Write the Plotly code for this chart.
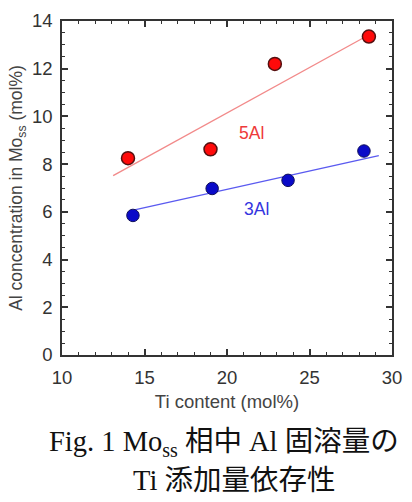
import plotly.graph_objects as go

# Data
ti_5al = [14.0, 19.0, 22.9, 28.6]
al_5al = [8.25, 8.62, 12.2, 13.35]
ti_3al = [14.3, 19.1, 23.7, 28.3]
al_3al = [5.85, 6.98, 7.32, 8.55]

fit5_x = [13.1, 28.5]
fit5_y = [7.52, 13.38]
fit3_x = [14.4, 29.2]
fit3_y = [6.08, 8.36]

label_names = ["5Al", "3Al"]
label_x = [21.5, 21.8]
label_y = [9.3, 6.1]

fig = go.Figure()
fig.add_trace(go.Scatter(x=fit5_x, y=fit5_y, mode="lines",
                         line=dict(color="#f28a8a", width=1.3), showlegend=False))
fig.add_trace(go.Scatter(x=fit3_x, y=fit3_y, mode="lines",
                         line=dict(color="#5a5af0", width=1.3), showlegend=False))
fig.add_trace(go.Scatter(x=ti_5al, y=al_5al, mode="markers",
                         marker=dict(size=13, color="#ff0a0a",
                                     line=dict(color="#551010", width=1.5)),
                         showlegend=False))
fig.add_trace(go.Scatter(x=ti_3al, y=al_3al, mode="markers",
                         marker=dict(size=12.5, color="#0a0ac8",
                                     line=dict(color="#10105a", width=1)),
                         showlegend=False))

label_colors = ["#ee3a3a", "#3535e0"]
for name, x, y, c in zip(label_names, label_x, label_y, label_colors):
    fig.add_annotation(x=x, y=y, text=name, showarrow=False,
                       font=dict(family="Liberation Sans", size=17.5, color=c))

cap_font = dict(family="Liberation Serif, Noto Sans CJK JP", size=28.5, color="#111")
fig.add_annotation(xref="paper", yref="paper", x=0.49, y=-0.265, yanchor="middle",
                   text="Fig. 1 Mo<sub>ss</sub> 相中 Al 固溶量の", showarrow=False,
                   font=cap_font)
fig.add_annotation(xref="paper", yref="paper", x=0.52, y=-0.375, yanchor="middle",
                   text="Ti 添加量依存性", showarrow=False, font=cap_font)

axis_common = dict(
    showgrid=False, zeroline=False, showline=True, linecolor="#333",
    linewidth=1.5, mirror="allticks", ticks="inside", ticklen=6, tickwidth=1.5,
    tickcolor="#333",
    tickfont=dict(family="Liberation Sans", size=18.5, color="#333"),
)

fig.update_xaxes(range=[10, 30], dtick=5, tick0=10,
                 minor=dict(dtick=1, ticks="inside", ticklen=3, tickcolor="#333", tickwidth=1.2),
                 title=dict(text="Ti content (mol%)", standoff=8,
                            font=dict(family="Liberation Sans", size=18.5, color="#444")),
                 ticklabelstandoff=5,
                 **axis_common)
fig.update_yaxes(range=[0, 14], dtick=2, tick0=0,
                 minor=dict(dtick=0.5, ticks="inside", ticklen=3, tickcolor="#333", tickwidth=1.2),
                 title=dict(text="Al concentration in Mo<sub>ss</sub> (mol%)", standoff=5,
                            font=dict(family="Liberation Sans", size=17.5, color="#444")),
                 ticklabelstandoff=4,
                 **axis_common)

fig.update_layout(width=412, height=502, margin=dict(l=62, r=10, t=16, b=147),
                  plot_bgcolor="white", paper_bgcolor="white")

fig.write_html("out.html")
